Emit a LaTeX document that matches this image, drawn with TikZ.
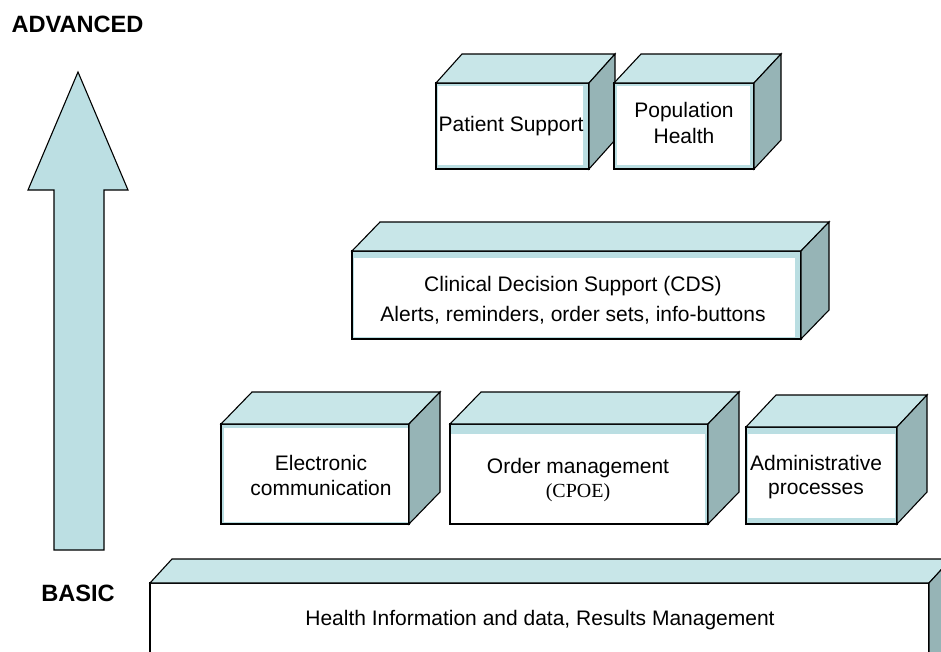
\documentclass[tikz,border=0pt]{standalone}
\usepackage{fontspec}
\setmainfont{Liberation Sans}
\newfontfamily\timesfont{Liberation Serif}
\usetikzlibrary{calc}

\definecolor{topblue}{RGB}{200,230,232}
\definecolor{sidegrey}{RGB}{150,180,182}
\definecolor{bandblue}{RGB}{186,222,226}
\definecolor{arrowblue}{RGB}{188,223,227}

\tikzset{
  x=1pt, y=-1pt,
  front/.style={draw=black, fill=bandblue, line width=1.1pt, inner sep=0pt,
    outer sep=0pt, anchor=north west},
  band/.style n args={4}{path picture={
      \fill[white] ($(path picture bounding box.north west)+(#1,#2)$)
        rectangle ($(path picture bounding box.south east)+(-#3,-#4)$);}},
  topface/.style={draw=black, fill=topblue, line width=1.1pt},
  sideface/.style={draw=black, fill=sidegrey, line width=1.1pt},
  label/.style={font=\fontsize{21}{25}\selectfont, align=center, anchor=base, inner sep=0pt},
  level/.style={font=\bfseries\fontsize{23.6}{28}\selectfont, anchor=base, inner sep=0pt},
  uparrow/.style={draw=black, fill=arrowblue, line width=1.1pt},
}

% front face named #1 with top and side faces of depth (#2,#3)
\newcommand\cubefaces[3]{%
  \draw[topface] (#1.north west) -- ++(#2,#3) -- ($(#1.north east)+(#2,#3)$)
    -- (#1.north east) -- cycle;
  \draw[sideface] (#1.north east) -- ++(#2,#3) -- ($(#1.south east)+(#2,#3)$)
    -- (#1.south east) -- cycle;
}

\begin{document}
\begin{tikzpicture}
\useasboundingbox (0,0) rectangle (941,651);
\clip (0,0) rectangle (941,651);
\fill[white] (0,0) rectangle (941,651);

% vertical scale arrow
\draw[uparrow] (78,72) -- (128,190) -- (104,190) -- (104,550) -- (54,550)
  -- (54,190) -- (28,190) -- cycle;
\node[level] (advanced) at (77.5,32) {ADVANCED};
\node[level] (basic) at (78,601.7) {BASIC};

% foundation (the anchor base of a multi-line label is its last line)
\node[front, band={0}{0}{0}{0}, minimum width=779, minimum height=120] (base) at (150,583) {};
\cubefaces{base}{22}{-24}
\node[label] (basetext) at (540,625) {Health Information and data, Results Management};

% second level
\node[front, band={3}{4}{1}{2}, minimum width=188, minimum height=100] (ecomm) at (221,424) {};
\cubefaces{ecomm}{31}{-32}
\node[label] (ecommtext) at (321,495) {Electronic\\communication};

\node[front, band={1}{10}{3}{1}, minimum width=258, minimum height=100] (order) at (450,424) {};
\cubefaces{order}{31}{-32}
\node[label] (ordertext) at (578,473.3) {Order management};
\node[label, font=\timesfont\fontsize{20}{24}\selectfont] (cpoe) at (578,497) {(CPOE)};

\node[front, band={2}{7}{2}{6}, minimum width=151, minimum height=97] (admin) at (746,427) {};
\cubefaces{admin}{30}{-32}
\node[label, font=\fontsize{21}{24}\selectfont] (admintext) at (816,494) {Administrative\\processes};

% third level
\node[front, band={2}{7}{6}{2}, minimum width=449, minimum height=88] (cds) at (352,251) {};
\cubefaces{cds}{28}{-29}
\node[label, font=\fontsize{21}{30}\selectfont] (cdstext) at (573,321)
  {Clinical Decision Support (CDS)\\Alerts, reminders, order sets, info-buttons};

% top level
\node[front, band={2}{3}{6}{4}, minimum width=153, minimum height=86] (patient) at (436,83) {};
\cubefaces{patient}{26}{-29}
\node[label] (patienttext) at (511,131) {Patient Support};

\node[front, band={3}{3}{4}{4}, minimum width=140, minimum height=86] (population) at (614,83) {};
\cubefaces{population}{27}{-29}
\node[label, font=\fontsize{21}{25.6}\selectfont] (populationtext) at (684,143.3) {Population\\Health};
\end{tikzpicture}
\end{document}
